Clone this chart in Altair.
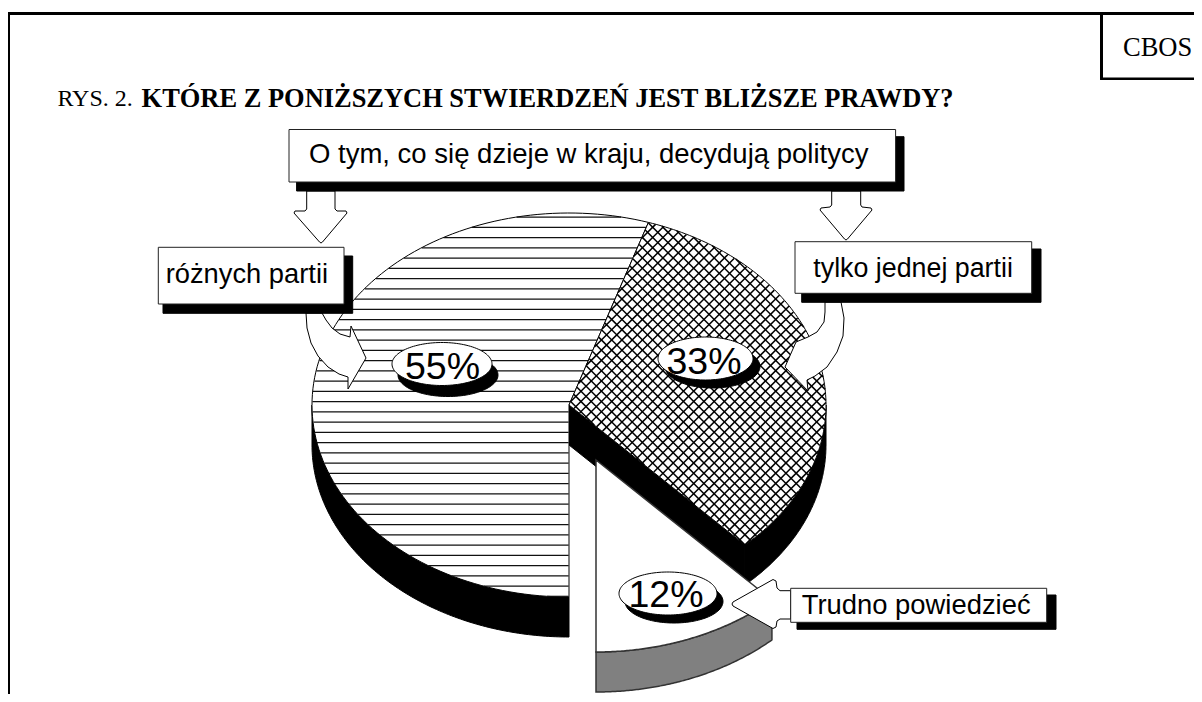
import numpy as np
import pandas as pd
import altair as alt

W, H = 1186, 686
OFF = 8

# ---- values
shares = [55, 33, 12]
share_labels = ["55%", "33%", "12%"]
label_centres = [(442, 364), (705.5, 358.5), (668, 593.5)]
label_text_pos = [(442.5, 367.5), (704, 362.5), (666, 595.5)]
label_shadow = [(6, 11), (7, 8), (6, 8)]
label_rx = [50, 47.5, 49]
label_ry = [21.5, 21.5, 21.5]

# ---- pie geometry
pie_cx, pie_cy = 569, 405
pie_rx, pie_ry = 257, 192
pie_depth = 40
explode = (27, 55)

# ---- boxes: left, right, top, bottom, shadow left, shadow right, shadow top, shadow bottom
boxes = [
    (289, 895.6, 129.5, 182, 296.6, 904, 136.7, 191),
    (158.3, 344, 247.3, 304, 163, 352.7, 256, 313.3),
    (795, 1031.7, 241.7, 293.3, 801.7, 1041, 249, 302.3),
    (790.7, 1046.7, 588.3, 622.3, 797, 1056, 595, 629.3),
]
box_texts = ["O tym, co się dzieje w kraju, decydują politycy",
             "różnych partii", "tylko jednej partii", "Trudno powiedzieć"]
box_text_pos = [(309, 154.5), (165.7, 275), (813.3, 269), (801.7, 606)]
box_text_size = [27.5, 27.3, 26.8, 27.4]

# ---- arrows
arrow_left_down = [(306.7, 191), (306.7, 209), (305, 211), (295, 211), (294, 213), (319.5, 242), (321, 243), (322.5, 242),
                   (347, 213), (346, 211), (337, 211), (335, 209), (335, 191)]
arrow_right_down = [(831.7, 191), (831.7, 205), (830, 207), (821, 208), (820, 210), (844.5, 239), (846, 240), (847.5, 239),
                    (872, 210), (871, 208), (862, 207), (860.7, 205), (860.7, 191)]
arrow_trudno = [(790.7, 590.7), (780, 590.7), (777, 588), (776, 581), (773, 579.5), (733, 602), (732, 604), (733, 606),
                (773, 628.5), (776, 627), (777, 621), (780, 619), (790.7, 619)]
arrow_curve_left = [(306, 313), (307, 328), (311, 343), (318, 356), (328, 367), (339, 374), (348, 377),
                    (348, 389), (366, 358), (351, 326), (350, 337), (340, 334), (332, 328), (326, 320), (322, 313)]
arrow_curve_right = [(841, 302), (844, 318), (843, 336), (837, 352), (827, 367), (815, 376), (807, 380),
                     (808, 391), (785, 367), (796, 342), (808, 337), (817, 332), (824, 322), (825, 312), (825, 302)]

title_plain = "RYS. 2."
title_bold = "KTÓRE Z PONIŻSZYCH STWIERDZEŃ JEST BLIŻSZE PRAWDY?"
corner = "CBOS"

X = alt.X("x:Q", scale=alt.Scale(domain=[0, W], range=[0, W], nice=False, zero=False), axis=None)
Y = alt.Y("y:Q", scale=alt.Scale(domain=[0, H], range=[0, H], nice=False, zero=False), axis=None)


def poly(pts, fill="white", stroke="black", sw=1.0):
    df = pd.DataFrame({"x": [p[0] - OFF for p in pts], "y": [p[1] - OFF for p in pts], "o": range(len(pts))})
    return alt.Chart(df).mark_line(interpolate="linear-closed", strokeWidth=sw, stroke=stroke, fill=fill, clip=True).encode(
        x=X, y=Y, order="o:Q")


def rect(l, r, t, b, fill, stroke=None, sw=1.0):
    return poly([(l, t), (r, t), (r, b), (l, b)], fill=fill, stroke=stroke or fill, sw=sw)


def ell_pts(cx, cy, rx, ry, a0, a1, n=120):
    # angle measured clockwise from six o'clock, in degrees, true pie angle
    t = np.radians(np.linspace(a0, a1, n))
    return list(zip(cx - rx * np.sin(t), cy + ry * np.cos(t)))


def sector(cx, cy, a0, a1):
    return [(cx, cy)] + ell_pts(cx, cy, pie_rx, pie_ry, a0, a1)


def wall(cx, cy, a0, a1):
    top = ell_pts(cx, cy, pie_rx, pie_ry, a0, a1)
    return top + [(a, b + pie_depth) for a, b in reversed(top)]


def inside(px, py, a0, a1):
    dx = (px - pie_cx) / pie_rx
    dy = (py - pie_cy) / pie_ry
    r = dx ** 2 + dy ** 2 <= 1
    ang = np.degrees(np.arctan2(-dx, dy)) % 360
    return r & (ang >= a0) & (ang <= a1)


def segments(p0, p1, a0, a1):
    n = int(np.hypot(p1[0] - p0[0], p1[1] - p0[1]) * 2) + 2
    s = np.linspace(0, 1, n)
    px = p0[0] + (p1[0] - p0[0]) * s
    py = p0[1] + (p1[1] - p0[1]) * s
    ok = inside(px, py, a0, a1)
    out = []
    i = 0
    while i < n:
        if ok[i]:
            j = i
            while j + 1 < n and ok[j + 1]:
                j += 1
            if j > i:
                out.append(((px[i], py[i]), (px[j], py[j])))
            i = j + 1
        else:
            i += 1
    return out


def hatch_layer(segs, sw, color="black"):
    rows = []
    for k, (a, b) in enumerate(segs):
        rows.append({"x": a[0] - OFF, "y": a[1] - OFF, "s": k, "o": 0})
        rows.append({"x": b[0] - OFF, "y": b[1] - OFF, "s": k, "o": 1})
    return alt.Chart(pd.DataFrame(rows)).mark_line(stroke=color, strokeWidth=sw).encode(
        x=X, y=Y, order="o:Q", detail="s:N")


cum = np.cumsum([0] + shares) * 3.6
a55 = (cum[0], cum[1])
a33 = (cum[1], cum[2])
a12 = (cum[2], cum[3])
ex_x, ex_y = pie_cx + explode[0], pie_cy + explode[1]

layers = []

# frame
layers.append(rect(7.5, W + 30, 12.5, 14.5, "black"))
layers.append(rect(7.5, 9.5, 13, H + 30, "black"))
layers.append(rect(1100.5, 1102.5, 13, 79.5, "black"))
layers.append(rect(1100.5, W + 30, 78, 79.5, "black"))

# pie walls (black)
layers.append(poly(wall(pie_cx, pie_cy, a55[0], 90), fill="black", stroke="black"))
layers.append(poly(wall(pie_cx, pie_cy, 270, a33[1]), fill="black", stroke="black"))
end33 = ell_pts(pie_cx, pie_cy, pie_rx, pie_ry, a33[1], a33[1], 1)[0]
layers.append(poly([(pie_cx, pie_cy), end33, (end33[0], end33[1] + pie_depth), (pie_cx, pie_cy + pie_depth)],
                   fill="black", stroke="black"))

# main sectors
layers.append(poly(sector(pie_cx, pie_cy, *a55), fill="white", stroke="black", sw=1))
layers.append(hatch_layer(
    [s for k in range(-2, 37) for s in segments((300, 227.3 + 10.25 * k), (660, 227.3 + 10.25 * k), *a55)],
    1.2, "#111111"))
layers.append(poly(sector(pie_cx, pie_cy, *a33), fill="white", stroke="black", sw=1))
P = 10.25
c1 = end33[0] + end33[1]
c2 = end33[0] - end33[1]
cross = []
for k in range(-70, 70):
    c = c1 + k * P
    cross += segments((c - 200, 200), (c - 600, 600), *a33)
    d = c2 + k * P
    cross += segments((d + 200, 200), (d + 600, 600), *a33)
layers.append(hatch_layer(cross, 1.5, "black"))

# exploded slice
w12 = ell_pts(ex_x, ex_y, pie_rx, pie_ry, a12[0], a12[1])
layers.append(poly(w12 + [(a, b + pie_depth) for a, b in reversed(w12)], fill="#808080", stroke="#333333", sw=1.5))
layers.append(poly(sector(ex_x, ex_y, *a12), fill="white", stroke="#333333", sw=1.5))

# arrows, then boxes with shadows
for pts in (arrow_left_down, arrow_right_down, arrow_curve_left, arrow_curve_right, arrow_trudno):
    layers.append(poly(pts, fill="white", stroke="black", sw=1))
for (l, r, t, b, sl, sr, st, sb) in boxes:
    layers.append(rect(sl, sr, st, sb, "black"))
    layers.append(rect(l, r, t, b, "white", stroke="#222222", sw=1))

# percent labels
for (cx, cy), (dx, dy), rx, ry in zip(label_centres, label_shadow, label_rx, label_ry):
    layers.append(poly(ell_pts(cx + dx, cy + dy, rx, ry, 0, 360), fill="black", stroke="black"))
    layers.append(poly(ell_pts(cx, cy, rx, ry, 0, 360), fill="white", stroke="black", sw=1))


def text(s, x, y, size, font, weight="normal", align="left"):
    df = pd.DataFrame({"x": [x - OFF], "y": [y - OFF], "t": [s]})
    return alt.Chart(df).mark_text(
        font=font, fontSize=size, fontWeight=weight, align=align, baseline="middle", color="black"
    ).encode(x=X, y=Y, text="t:N")


for s, (cx, cy) in zip(share_labels, label_text_pos):
    layers.append(text(s, cx, cy, 37.5, "Liberation Sans", align="center"))
for s, (x, y), fs in zip(box_texts, box_text_pos, box_text_size):
    layers.append(text(s, x, y, fs, "Liberation Sans"))

layers.append(text(title_plain, 57.4, 99, 24, "Liberation Serif"))
layers.append(text(title_bold, 141.6, 99, 26.45, "Liberation Serif", weight="bold"))
layers.append(text(corner, 1123, 48, 26.5, "Liberation Serif"))

chart = alt.layer(*layers).properties(
    width=W, height=H, padding=0, autosize=alt.AutoSizeParams(type="none"), background="white"
).configure_view(strokeWidth=0)

chart.save("out.html", embed_options={"renderer": "svg", "actions": False})
